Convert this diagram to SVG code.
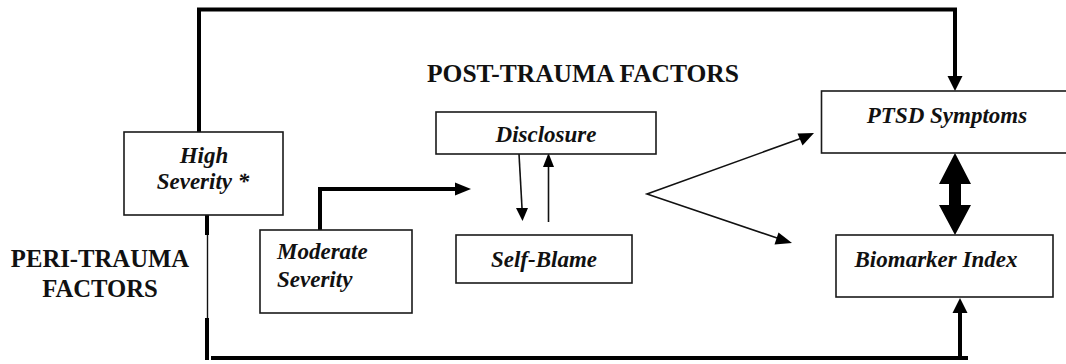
<svg xmlns="http://www.w3.org/2000/svg" width="1066" height="364" viewBox="0 0 1066 364">
<style>
.box{fill:#fff;stroke:#1a1a1a;stroke-width:1.6}
.lbl{font-family:"Liberation Serif","Times New Roman",serif;font-weight:bold;font-style:italic;font-size:23px;fill:#111}
.hdr{font-family:"Liberation Serif","Times New Roman",serif;font-weight:bold;font-size:24.7px;fill:#111}
.thick{fill:none;stroke:#000;stroke-width:4}
.thin{fill:none;stroke:#111;stroke-width:1.6}
</style>
<rect width="1066" height="364" fill="#fff"/>
<text class="hdr" x="427" y="82" style="font-size:25.5px">POST-TRAUMA FACTORS</text>
<g id="peri-label">
<text class="hdr" x="100" y="267" text-anchor="middle">PERI-TRAUMA</text>
<text class="hdr" x="100" y="297" text-anchor="middle">FACTORS</text>
</g>
<g id="connectors">
<polyline class="thick" points="199,132 199,9.5 955,9.5 955,77"/>
<path d="M947.5,76 L962.5,76 L955,91 Z" fill="#000"/>
<line class="thick" x1="207" y1="215" x2="207" y2="235"/>
<line x1="207.5" y1="235" x2="207.5" y2="318" stroke="#111" stroke-width="1.4"/>
<line class="thick" x1="207" y1="318" x2="207" y2="360"/>
<polyline class="thick" points="211,358 968,358"/>
<line class="thick" x1="960" y1="358" x2="960" y2="312"/>
<path d="M952.5,313 L967.5,313 L960,298 Z" fill="#000"/>
<polyline class="thick" points="320,230 320,189 457,189"/>
<path d="M455,182.5 L471,189 L455,195.5 Z" fill="#000"/>
<line class="thin" x1="519" y1="154" x2="522" y2="208"/>
<path d="M516,208 L528,208 L522.5,221 Z" fill="#000"/>
<line class="thin" x1="548.5" y1="222" x2="548.5" y2="166"/>
<path d="M543,167 L554,167 L548.5,153 Z" fill="#000"/>
<polyline class="thin" points="802,138 647,194 780,239"/>
<path d="M814,133 L797.5,133.5 L802.5,145.5 Z" fill="#000"/>
<path d="M792,243 L778.5,232.5 L774.5,244.5 Z" fill="#000"/>
<path d="M955,153 L971,184 L961,184 L961,205 L971,205 L955,235 L939,205 L949,205 L949,184 L939,184 Z" fill="#000"/>
</g>
<g id="high-severity">
<rect class="box" x="124" y="132" width="159" height="83"/>
<text class="lbl" x="204" y="163" text-anchor="middle">High</text>
<text class="lbl" x="203" y="189" text-anchor="middle">Severity *</text>
</g>
<g id="moderate-severity">
<rect class="box" x="260" y="230" width="152" height="83"/>
<text class="lbl" x="277" y="259">Moderate</text>
<text class="lbl" x="277" y="287">Severity</text>
</g>
<g id="disclosure">
<rect class="box" x="436" y="112" width="220" height="42"/>
<text class="lbl" x="546" y="142" text-anchor="middle">Disclosure</text>
</g>
<g id="self-blame">
<rect class="box" x="456" y="235" width="176" height="48"/>
<text class="lbl" x="544" y="267" text-anchor="middle">Self-Blame</text>
</g>
<g id="ptsd-symptoms">
<rect class="box" x="821.5" y="91" width="250" height="62"/>
<text class="lbl" x="947" y="123" text-anchor="middle">PTSD Symptoms</text>
</g>
<g id="biomarker-index">
<rect class="box" x="836" y="235" width="217" height="62"/>
<text class="lbl" x="936" y="267" text-anchor="middle">Biomarker Index</text>
</g>
</svg>
